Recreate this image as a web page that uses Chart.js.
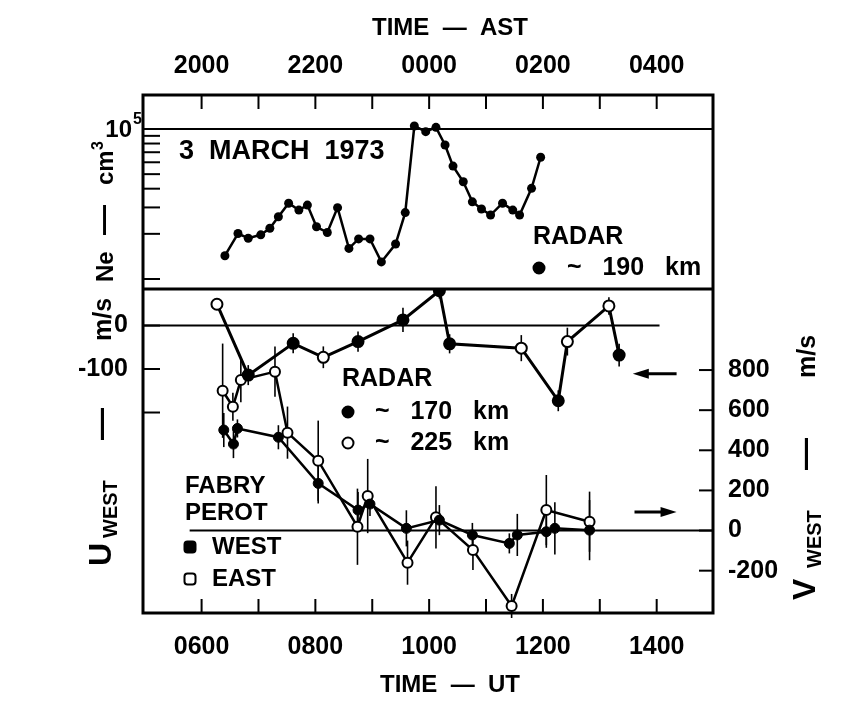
<!DOCTYPE html>
<html>
<head>
<meta charset="utf-8">
<script src="https://cdn.jsdelivr.net/npm/chart.js@4.4.1/dist/chart.umd.min.js"></script>
<style>
  html, body { margin: 0; padding: 0; background: #fff; }
</style>
</head>
<body>
<canvas id="chart" width="844" height="702"></canvas>
<script>
// Axe du temps (heures UT)
const xMin = 4.97;
const xMax = 14.99;
const tickHours = [6, 7, 8, 9, 10, 11, 12, 13, 14];
const labelHours = [6, 8, 10, 12, 14];
const utLabels = ['0600', '0800', '1000', '1200', '1400'];
const astLabels = ['2000', '2200', '0000', '0200', '0400'];

// Densité électronique Ne (cm-3), radar ~190 km
const neHours = [6.41, 6.64, 6.82, 7.04, 7.20, 7.35, 7.53, 7.71, 7.86, 8.02, 8.21, 8.39, 8.59, 8.76, 8.96, 9.16,
                 9.41, 9.58, 9.74, 9.94, 10.12, 10.28, 10.42, 10.60, 10.76, 10.92, 11.08, 11.29, 11.47, 11.59, 11.80, 11.96];
const neValues = [14300, 20100, 18700, 19700, 21800, 26000, 32000, 28800, 31100, 22300, 20400, 29900, 16000, 18500, 18500, 13000,
                  17100, 27700, 104700, 96000, 102600, 78200, 56600, 44500, 32700, 29300, 26700, 32000, 28800, 26700, 40200, 64800];
const neTicks = [10000, 20000, 30000, 40000, 50000, 60000, 70000, 80000, 90000, 100000];

// Vent U_WEST (m/s) mesuré au radar, altitude de chaque point (170 ou 225 km)
const uHours = [6.27, 6.82, 7.61, 8.14, 8.75, 9.54, 10.18, 10.36, 11.62, 12.27, 12.43, 13.16, 13.34];
const uValues = [49, -114, -41, -73, -37, 13, 80, -42, -52, -173, -37, 45, -68];
const uErrors = [12, 23, 23, 25, 23, 28, 18, 22, 30, 24, 32, 20, 26];
const uAltitude = [225, 170, 170, 225, 170, 170, 170, 170, 225, 170, 225, 225, 170];
const uTicks = [0, -100, -200];
const uTickLabels = ['0', '-100', ''];

// Vent V_WEST (m/s) Fabry-Perot, visée ouest et est
const westHours = [6.39, 6.56, 6.63, 7.35, 8.05, 8.75, 8.96, 9.60, 10.18, 10.76, 11.41, 11.55, 12.06, 12.21, 12.82];
const westValues = [501, 431, 509, 465, 235, 102, 132, 11, 52, -22, -64, -22, -6, 11, 2];
const westErrors = [85, 70, 45, 60, 100, 90, 60, 90, 75, 60, 50, 105, 80, 130, 150];
const eastHours = [6.37, 6.55, 6.69, 7.29, 7.51, 8.05, 8.74, 8.92, 9.62, 10.12, 10.77, 11.45, 12.06, 12.82];
const eastValues = [697, 617, 750, 792, 488, 348, 19, 172, -160, 66, -97, -376, 102, 44];
const eastErrors = [235, 70, 110, 125, 130, 200, 190, 185, 110, 155, 100, 60, 175, 150];
const vTicks = [800, 600, 400, 200, 0, -200];

const FONT = "'Liberation Sans', Arial, Helvetica, sans-serif";
function police(size) { return 'bold ' + size + 'px ' + FONT; }

function points(xs, ys) { return xs.map((x, i) => ({ x: x, y: ys[i] })); }

// Texte tourné de 90°, morceaux placés le long de la ligne de base
function texteVertical(ctx, x, y, parts) {
  ctx.save();
  ctx.translate(x, y);
  ctx.rotate(-Math.PI / 2);
  ctx.textAlign = 'left';
  ctx.textBaseline = 'alphabetic';
  parts.forEach(([t, size, along, across]) => {
    ctx.font = police(size);
    ctx.fillText(t, along, across);
  });
  ctx.restore();
}

function rond(ctx, x, y, r, plein) {
  ctx.beginPath();
  ctx.arc(x, y, r, 0, Math.PI * 2);
  ctx.fillStyle = plein ? '#000' : '#fff';
  ctx.fill();
  ctx.lineWidth = 2;
  ctx.strokeStyle = '#000';
  ctx.stroke();
}

function carre(ctx, x, y, s, plein) {
  ctx.beginPath();
  ctx.roundRect(x - s / 2, y - s / 2, s, s, 3);
  ctx.fillStyle = plein ? '#000' : '#fff';
  ctx.fill();
  ctx.lineWidth = 2;
  ctx.strokeStyle = '#000';
  ctx.stroke();
}

function fleche(ctx, x1, x2, y) {
  const dir = Math.sign(x2 - x1);
  ctx.lineWidth = 3;
  ctx.beginPath();
  ctx.moveTo(x1, y);
  ctx.lineTo(x2 - dir * 10, y);
  ctx.stroke();
  ctx.beginPath();
  ctx.moveTo(x2, y);
  ctx.lineTo(x2 - dir * 16, y - 5);
  ctx.lineTo(x2 - dir * 16, y + 5);
  ctx.closePath();
  ctx.fill();
}

// Barres d'erreur verticales (sous les points)
const barresErreur = {
  id: 'barresErreur',
  beforeDatasetsDraw(chart) {
    const { ctx, chartArea: a, scales } = chart;
    ctx.save();
    ctx.beginPath();
    ctx.rect(a.left, scales.yU.top, a.width, scales.yU.bottom - scales.yU.top + 6);
    ctx.clip();
    ctx.strokeStyle = '#000';
    ctx.lineWidth = 1.6;
    chart.data.datasets.forEach((ds, i) => {
      if (!ds.errors) return;
      const meta = chart.getDatasetMeta(i);
      const ys = scales[ds.yAxisID];
      meta.data.forEach((pt, j) => {
        const v = ds.data[j].y, e = ds.errors[j];
        ctx.beginPath();
        ctx.moveTo(pt.x, ys.getPixelForValue(v + e));
        ctx.lineTo(pt.x, ys.getPixelForValue(v - e));
        ctx.stroke();
      });
    });
    ctx.restore();
  }
};

// Cadre, graduations intérieures, titres et annotations
const cadre = {
  id: 'cadre',
  afterDraw(chart) {
    const { ctx, chartArea: a, scales } = chart;
    const { x, yNe, yU, yV } = scales;
    const tl = 14;
    ctx.save();
    ctx.strokeStyle = '#000';
    ctx.fillStyle = '#000';
    const seg = (x1, y1, x2, y2) => { ctx.beginPath(); ctx.moveTo(x1, y1); ctx.lineTo(x2, y2); ctx.stroke(); };

    ctx.lineWidth = 2;
    x.ticks.forEach(t => {
      const px = x.getPixelForValue(t.value);
      seg(px, a.bottom, px, a.bottom - tl);
      seg(px, a.top, px, a.top + tl);
    });
    yNe.ticks.forEach(t => {
      if (t.value >= 100000) return;
      const py = yNe.getPixelForValue(t.value);
      seg(a.left, py, a.left + tl + 3, py);
    });
    yU.ticks.forEach(t => {
      const py = yU.getPixelForValue(t.value);
      seg(a.left, py, a.left + tl + 3, py);
    });
    yV.ticks.forEach(t => {
      const py = yV.getPixelForValue(t.value);
      seg(a.right, py, a.right - tl, py);
    });

    ctx.lineWidth = 3;
    ctx.strokeRect(a.left, a.top, a.width, a.height);
    seg(a.left, yNe.bottom, a.right, yNe.bottom);

    // 10^5
    const y5 = yNe.getPixelForValue(100000);
    ctx.textBaseline = 'middle';
    ctx.textAlign = 'right';
    ctx.font = police(24);
    ctx.fillText('10', a.left - 11, y5 + 1);
    ctx.textAlign = 'left';
    ctx.font = police(16);
    ctx.fillText('5', a.left - 10, y5 - 9);

    // titres des axes du temps
    const cx = (a.left + a.right) / 2 + 22;
    ctx.textAlign = 'center';
    ctx.font = police(24);
    ctx.fillText('TIME  —  AST', cx, 28);
    ctx.fillText('TIME  —  UT', cx, 685);

    // titres verticaux
    texteVertical(ctx, a.left - 30, yNe.bottom - 7, [['Ne', 24, 0, 0], ['—', 30, 47, 0], ['cm', 24, 97, 0], ['3', 16, 132, -10]]);
    texteVertical(ctx, a.left - 32, a.bottom - 47, [['U', 32, 0, 0], ['WEST', 20, 28, 6], ['—', 32, 126, 0], ['m/s', 25, 225, 0]]);
    texteVertical(ctx, a.right + 102, a.bottom - 13, [['V', 32, 0, 0], ['WEST', 20, 32, 6], ['—', 32, 130, 0], ['m/s', 25, 222, 0]]);

    // annotations
    ctx.textAlign = 'left';
    ctx.textBaseline = 'middle';
    ctx.font = police(27);
    ctx.fillText('3  MARCH  1973', a.left + 36, a.top + 57);
    ctx.font = police(25);
    ctx.fillText('RADAR', a.left + 390, a.top + 142);
    rond(ctx, a.left + 396, a.top + 173, 5.5, true);
    ctx.fillStyle = '#000';
    ctx.fillText('~   190   km', a.left + 424, a.top + 173);

    ctx.fillText('RADAR', a.left + 199, 379);
    rond(ctx, a.left + 205, 412, 5.5, true);
    ctx.fillStyle = '#000';
    ctx.fillText('~   170   km', a.left + 232, 412);
    rond(ctx, a.left + 205, 443, 5.5, false);
    ctx.fillStyle = '#000';
    ctx.fillText('~   225   km', a.left + 232, 443);

    ctx.font = police(24);
    ctx.fillText('FABRY', a.left + 42, 486);
    ctx.fillText('PEROT', a.left + 42, 513);
    carre(ctx, a.left + 47, 547, 11, true);
    ctx.fillStyle = '#000';
    ctx.fillText('WEST', a.left + 69, 547);
    carre(ctx, a.left + 47, 579, 11, false);
    ctx.fillStyle = '#000';
    ctx.fillText('EAST', a.left + 69, 579);

    // flèches : U sur l'axe de gauche, V sur l'axe de droite
    fleche(ctx, x.getPixelForValue(14.35), x.getPixelForValue(13.58), yU.getPixelForValue(-111));
    fleche(ctx, x.getPixelForValue(13.61), x.getPixelForValue(14.35), yV.getPixelForValue(92));
    ctx.restore();
  }
};

const tickFont = { family: FONT, size: 25, weight: 'bold' };

new Chart(document.getElementById('chart'), {
  type: 'line',
  data: {
    datasets: [
      {
        data: points(neHours, neValues), xAxisID: 'x', yAxisID: 'yNe',
        borderColor: '#000', borderWidth: 2.5, pointRadius: 4.5,
        pointBackgroundColor: '#000', pointBorderWidth: 0
      },
      {
        data: points(uHours, uValues), xAxisID: 'x', yAxisID: 'yU', errors: uErrors,
        borderColor: '#000', borderWidth: 3, pointRadius: 5.5,
        pointBackgroundColor: uAltitude.map(h => h === 170 ? '#000' : '#fff'),
        pointBorderColor: '#000', pointBorderWidth: 2
      },
      {
        data: points(westHours, westValues), xAxisID: 'x', yAxisID: 'yV', errors: westErrors,
        borderColor: '#000', borderWidth: 2.5, pointRadius: 5,
        pointBackgroundColor: '#000', pointBorderColor: '#000', pointBorderWidth: 1
      },
      {
        data: points(eastHours, eastValues), xAxisID: 'x', yAxisID: 'yV', errors: eastErrors,
        borderColor: '#000', borderWidth: 2.5, pointRadius: 5,
        pointBackgroundColor: '#fff', pointBorderColor: '#000', pointBorderWidth: 2
      },
      // lignes de référence
      { data: [{ x: xMin, y: 100000 }, { x: xMax, y: 100000 }], xAxisID: 'x', yAxisID: 'yNe', borderColor: '#000', borderWidth: 2, pointRadius: 0 },
      { data: [{ x: xMin, y: 0 }, { x: 14.05, y: 0 }], xAxisID: 'x', yAxisID: 'yU', borderColor: '#000', borderWidth: 2, pointRadius: 0 },
      { data: [{ x: 5.79, y: 0 }, { x: xMax, y: 0 }], xAxisID: 'x', yAxisID: 'yV', borderColor: '#000', borderWidth: 2, pointRadius: 0 }
    ]
  },
  options: {
    responsive: false,
    animation: false,
    layout: { padding: { left: 73, right: 51, top: 14, bottom: 3 } },
    plugins: { legend: { display: false }, tooltip: { enabled: false } },
    elements: { line: { tension: 0 } },
    scales: {
      x: {
        type: 'linear', position: 'bottom', min: xMin, max: xMax,
        grid: { display: false, drawTicks: false }, border: { display: false },
        afterBuildTicks: s => { s.ticks = tickHours.map(v => ({ value: v })); },
        afterFit: s => { s.height = 86; },
        ticks: {
          font: tickFont, color: '#000', padding: 19, maxRotation: 0, autoSkip: false,
          callback: v => { const i = labelHours.indexOf(v); return i >= 0 ? utLabels[i] : ''; }
        }
      },
      xTop: {
        type: 'linear', position: 'top', min: xMin, max: xMax,
        grid: { display: false, drawTicks: false }, border: { display: false },
        afterBuildTicks: s => { s.ticks = tickHours.map(v => ({ value: v })); },
        afterFit: s => { s.height = 81; },
        ticks: {
          font: tickFont, color: '#000', padding: 14, maxRotation: 0, autoSkip: false,
          callback: v => { const i = labelHours.indexOf(v); return i >= 0 ? astLabels[i] : ''; }
        }
      },
      yU: {
        type: 'linear', position: 'left', stack: 'gauche', stackWeight: 324, min: -661, max: 84,
        grid: { display: false, drawTicks: false }, border: { display: false },
        afterBuildTicks: s => { s.ticks = uTicks.map(v => ({ value: v })); },
        afterFit: s => { s.width = 70; },
        ticks: {
          font: tickFont, color: '#000', padding: 15,
          callback: v => uTickLabels[uTicks.indexOf(v)]
        }
      },
      yNe: {
        type: 'logarithmic', position: 'left', stack: 'gauche', stackWeight: 194, min: 8577, max: 168500,
        grid: { display: false, drawTicks: false }, border: { display: false },
        afterBuildTicks: s => { s.ticks = neTicks.map(v => ({ value: v })); },
        afterFit: s => { s.width = 70; },
        ticks: { display: false }
      },
      yV: {
        type: 'linear', position: 'right', min: -411, max: 2171,
        grid: { display: false, drawTicks: false }, border: { display: false },
        afterBuildTicks: s => { s.ticks = vTicks.map(v => ({ value: v })); },
        afterFit: s => { s.width = 80; },
        ticks: { font: tickFont, color: '#000', padding: 15, callback: v => String(v) }
      }
    }
  },
  plugins: [barresErreur, cadre]
});
</script>
</body>
</html>
